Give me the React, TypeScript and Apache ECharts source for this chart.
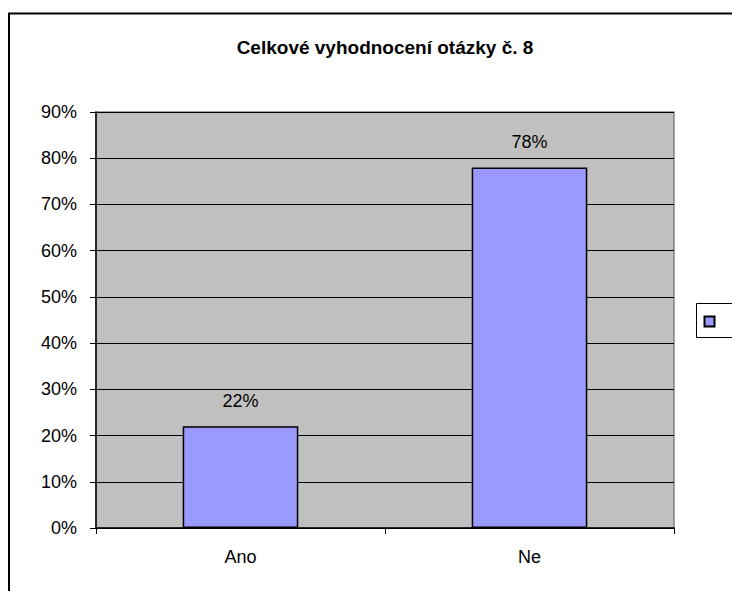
import React, { useEffect, useRef } from "react";
import * as echarts from "echarts";

const categories = ["Ano", "Ne"];
const values = [22, 78];
const titleText = "Celkové vyhodnocení otázky č. 8";
const yMax = 90;
const yInterval = 10;

const FONT = "'Liberation Sans', Arial, sans-serif";

export default function App() {
  const ref = useRef<HTMLDivElement>(null);
  useEffect(() => {
    if (!ref.current) return;
    const chart = echarts.init(ref.current, null, { renderer: "svg" });
    chart.setOption({
      animation: false,
      backgroundColor: "#ffffff",
      title: {
        text: titleText,
        left: 380,
        top: 33,
        textAlign: "center",
        textStyle: { fontFamily: FONT, fontSize: 19, fontWeight: "bold", color: "#000" },
      },
      grid: {
        left: 96,
        top: 112,
        width: 578,
        height: 416,
        show: true,
        backgroundColor: "#C0C0C0",
        borderColor: "#808080",
        borderWidth: 1.5,
      },
      xAxis: {
        type: "category",
        data: categories,
        axisLine: { lineStyle: { color: "#000", width: 1.5 } },
        axisTick: { show: true, length: 6, lineStyle: { color: "#000" } },
        axisLabel: { margin: 20, fontFamily: FONT, fontSize: 18, color: "#000" },
      },
      yAxis: {
        type: "value",
        min: 0,
        max: yMax,
        interval: yInterval,
        axisLine: { show: true, lineStyle: { color: "#000", width: 1.5 } },
        axisTick: { show: true, length: 6, lineStyle: { color: "#000" } },
        axisLabel: { margin: 19, formatter: "{value}%", fontFamily: FONT, fontSize: 18, color: "#000" },
        splitLine: { show: true, lineStyle: { color: "#000", width: 1 } },
      },
      series: [
        {
          type: "bar",
          data: values,
          barWidth: "40%",
          itemStyle: { color: "#9999FF", borderColor: "#000", borderWidth: 1.5 },
          label: {
            show: true,
            position: "top",
            distance: 16,
            formatter: "{c}%",
            fontFamily: FONT,
            fontSize: 18,
            color: "#000",
          },
        },
      ],
      graphic: [
        {
          type: "rect",
          shape: { x: 9, y: 13.5, width: 800, height: 700 },
          style: { fill: "none", stroke: "#000", lineWidth: 2 },
          z: 100,
        },
        {
          type: "rect",
          shape: { x: 696.5, y: 303.5, width: 40, height: 34 },
          style: { fill: "#fff", stroke: "#000", lineWidth: 1 },
          z: 100,
        },
        {
          type: "rect",
          shape: { x: 704.5, y: 316.5, width: 10, height: 10 },
          style: { fill: "#9999FF", stroke: "#000", lineWidth: 2 },
          z: 101,
        },
      ],
    });
    return () => chart.dispose();
  }, []);
  return (
    <div
      ref={ref}
      style={{ position: "fixed", left: 0, top: 0, width: 732, height: 591 }}
    />
  );
}
